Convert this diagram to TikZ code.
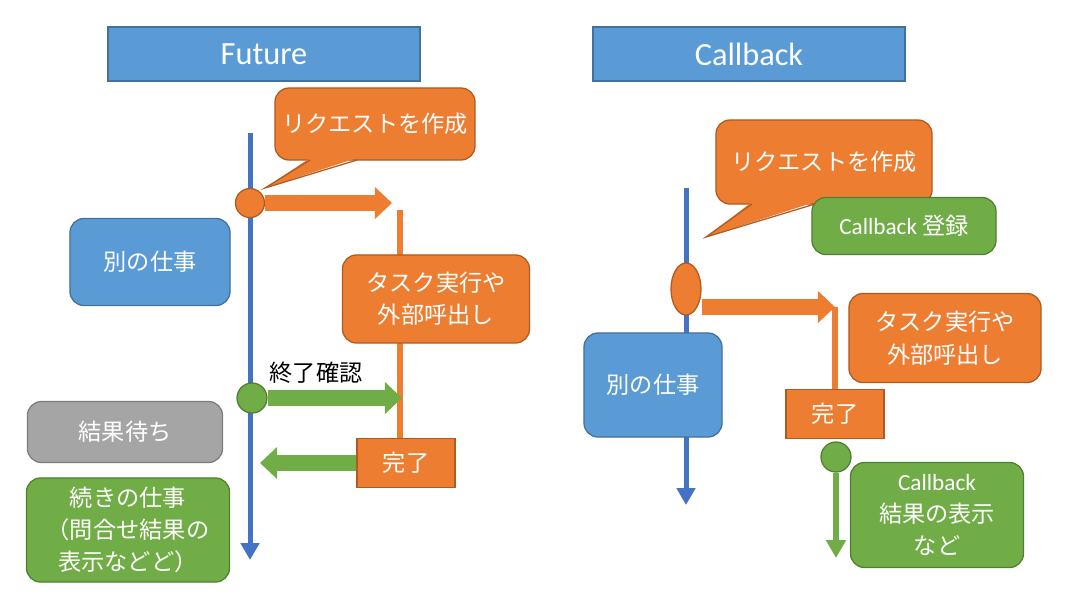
\documentclass[tikz,border=0pt]{standalone}
\usepackage{fontspec}
\setmainfont{Carlito}
\newfontfamily\jp{Noto Sans CJK JP}
\usepackage{tikz}
\usetikzlibrary{arrows.meta, shapes.geometric, backgrounds}
\definecolor{obg}{HTML}{ED7D31}
\definecolor{obd}{HTML}{AE5A21}
\definecolor{bbg}{HTML}{5B9BD5}
\definecolor{bbd}{HTML}{41719C}
\definecolor{gbg}{HTML}{70AD47}
\definecolor{gbd}{HTML}{507E32}
\definecolor{ybg}{HTML}{A5A5A5}
\definecolor{ybd}{HTML}{7C7C7C}
\definecolor{tl}{HTML}{4472C4}

\begin{document}
\begin{tikzpicture}[
    x=0.025cm, y=-0.025cm,
    box/.style={draw, rounded corners=0.35cm, line width=0.9pt, align=center, text=white, inner sep=0pt, font=\jp\fontsize{16.5}{23}\selectfont},
    ora/.style={box, fill=obg, draw=obd},
    blu/.style={box, fill=bbg, draw=bbd},
    grn/.style={box, fill=gbg, draw=gbd},
    gry/.style={box, fill=ybg, draw=ybd},
    latin/.style={font=\fontsize{16.5}{23}\selectfont},
    titlebox/.style={blu, rounded corners=0pt, minimum width=7.8cm, minimum height=1.35cm, font=\fontsize{23}{27}\selectfont},
    donebox/.style={ora, rounded corners=0pt, minimum width=2.45cm, minimum height=1.22cm},
    dot/.style={circle, draw, line width=0.9pt, minimum size=0.75cm, inner sep=0pt},
    tline/.style={draw=tl, line width=0.125cm, -{Triangle[length=0.42cm, width=0.45cm]}},
    flow/.style={draw=obg, line width=0.14cm},
    block/.style={line width=0.4cm, -{Triangle[length=0.43cm, width=0.78cm]}},
    tail/.style={draw=obd, line width=0.9pt, line join=miter},
]
\useasboundingbox (0,0) rectangle (1065,595);

\node[titlebox] (fut) at (264,54) {Future};
\node[titlebox] (cbk) at (749,54) {Callback};

\node[ora, minimum width=5cm, minimum height=1.8cm] (req1) at (375,124) {リクエストを作成};
\coordinate (tip1) at (265,188);
\fill[obg] (310,158) -- (tip1) -- (357,158) -- cycle;
\draw[tail] (310,160) -- (tip1) -- (357,160);
\node[dot, fill=obg, draw=obd, minimum size=0.725cm] (s1) at (250,203) {};
\node[ora, minimum width=4.675cm, minimum height=2.2cm] (task1) at (436,299) {タスク実行や\\外部呼出し};
\node[blu, minimum width=4cm, minimum height=2.175cm] (work1) at (150,262) {別の仕事};
\node[dot, fill=gbg, draw=gbd] (chk) at (252,398) {};
\node[font=\jp\fontsize{16.5}{23}\selectfont] (lbl) at (316,373) {終了確認};
\node[donebox] (done1) at (406,463) {完了};
\node[gry, minimum width=4.875cm, minimum height=1.525cm] (wait) at (125,432) {結果待ち};
\node[grn, minimum width=5.075cm, minimum height=2.6cm] (next) at (128,530) {続きの仕事\\（問合せ結果の\\表示などど）};

\coordinate (top1) at (250,133);
\coordinate (end1) at (250,560);
\coordinate (hit1) at (392,203);
\coordinate (line1) at (400,210);
\coordinate (hit2) at (402,398);
\coordinate (back1) at (260,463);

\draw[block, obg] (s1.east) -- (hit1);
\draw[block, gbg] (chk.east) -- (hit2);
\draw[block, gbg] (done1.west) -- (back1);

\node[ora, minimum width=5.4cm, minimum height=2.1cm] (req2) at (824,162) {リクエストを作成};
\coordinate (tip2) at (706,237);
\fill[obg] (752,202) -- (tip2) -- (815,202) -- cycle;
\draw[tail] (752,204) -- (tip2) -- (815,204);
\node[grn, latin, minimum width=4.6cm, minimum height=1.425cm] (reg) at (904,226) {Callback {\jp 登録}};
\node[dot, ellipse, fill=obg, draw=obd, minimum width=0.75cm, minimum height=1.3cm] (s2) at (686,289) {};
\node[ora, minimum width=4.8cm, minimum height=2.225cm] (task2) at (945,338) {タスク実行や\\外部呼出し};
\node[blu, minimum width=3.45cm, minimum height=2.6cm] (work2) at (653,385) {別の仕事};
\node[donebox] (done2) at (835,414) {完了};
\node[dot, fill=gbg, draw=gbd] (chk2) at (836,457) {};
\node[grn, latin, minimum width=4.325cm, minimum height=2.625cm] (res) at (937,515) {Callback\\{\jp 結果の表示}\\{\jp など}};

\coordinate (top2) at (686,188);
\coordinate (end2) at (686,505);
\coordinate (hit3) at (835,307);
\coordinate (end3) at (836,558);

\draw[block, obg] (s2.east |- hit3) -- (hit3);
\draw[gbg, line width=0.15cm, -{Triangle[length=0.45cm, width=0.48cm]}] (chk2.south) -- (end3);

\begin{scope}[on background layer]
\draw[tline] (top1) -- (end1);
\draw[tline] (top2) -- (end2);
\draw[flow] (line1) -- (line1 |- done1.north);
\draw[flow] (hit3) -- (hit3 |- done2.north);
\end{scope}
\end{tikzpicture}
\end{document}
